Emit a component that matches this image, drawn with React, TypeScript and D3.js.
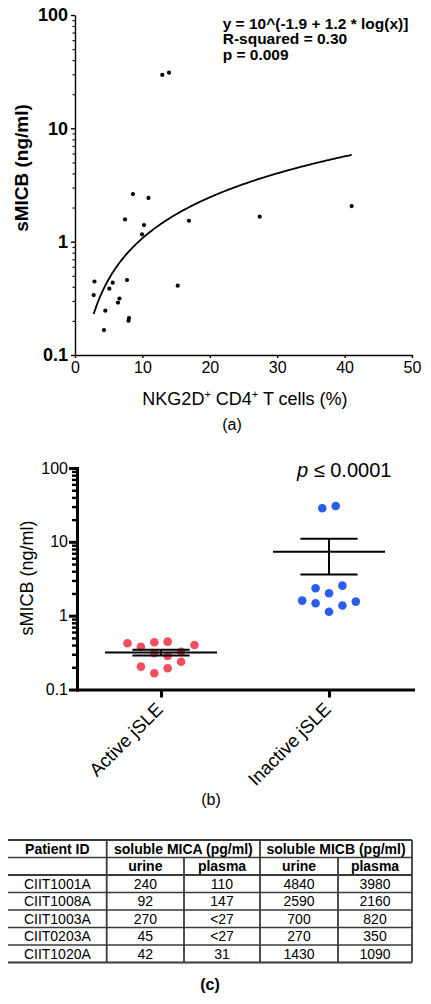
import React, { useEffect, useRef } from 'react';
import * as d3 from 'd3';

const FONT = '"Liberation Sans", Arial, Helvetica, sans-serif';

// ---------- Panel (a): scatter with power-law fit ----------
const nkg2dPct = [8.6, 10.9, 7.42, 10.24, 9.94, 16.9, 27.4, 41.05, 2.89, 2.77, 5.59, 5.09, 7.72, 6.6, 6.38, 4.5, 8.01, 7.94, 4.3, 15.24, 12.95, 13.95];
const smicbA = [2.63, 2.43, 1.57, 1.4, 1.16, 1.53, 1.66, 2.06, 0.445, 0.338, 0.435, 0.385, 0.459, 0.315, 0.29, 0.246, 0.212, 0.201, 0.166, 0.409, 29.6, 31.0];
const xTicksA = [0, 10, 20, 30, 40, 50];
const logTicks = [0.1, 1, 10, 100];
const fitIntercept = -1.17;
const fitSlope = 1.2;
const fitDomain = [2.77, 41.05];
const annotationLines = ['y = 10^(-1.9 + 1.2 * log(x)]', 'R-squared = 0.30', 'p = 0.009'];

// ---------- Panel (b): dot plot with mean ± SEM ----------
const groups = ['Active jSLE', 'Inactive jSLE'];
const activeValues = [0.423, 0.38, 0.436, 0.445, 0.401, 0.31, 0.284, 0.325, 0.204, 0.194, 0.238, 0.166];
const activeSlots = [-2.5, -1.5, -0.5, 0.5, 2.5, -0.5, 0.5, 1.5, -1.5, 0.5, 1.5, -0.5];
const inactiveValues = [28.5, 30.6, 2.35, 2.55, 2.01, 1.6, 1.47, 1.55, 1.37, 1.13];
const inactiveSlots = [-0.5, 0.5, -1, 1, 0, -2, -1, 2, 1, 0];
const pLabel = '≤ 0.0001';

// ---------- Panel (c): table ----------
const patientIds = ['CIIT1001A', 'CIIT1008A', 'CIIT1003A', 'CIIT0203A', 'CIIT1020A'];
const micaUrine = ['240', '92', '270', '45', '42'];
const micaPlasma = ['110', '147', '<27', '<27', '31'];
const micbUrine = ['4840', '2590', '700', '270', '1430'];
const micbPlasma = ['3980', '2160', '820', '350', '1090'];
const groupHeaders = ['soluble MICA (pg/ml)', 'soluble MICB (pg/ml)'];
const subHeaders = ['urine', 'plasma', 'urine', 'plasma'];

export default function App() {
  const aY = useRef<SVGGElement>(null);
  const aYm = useRef<SVGGElement>(null);
  const aX = useRef<SVGGElement>(null);
  const bY = useRef<SVGGElement>(null);
  const bYm = useRef<SVGGElement>(null);
  const bX = useRef<SVGGElement>(null);

  const xA = d3.scaleLinear().domain([0, 50]).range([75, 412]);
  const yA = d3.scaleLog().domain([0.1, 100]).range([355, 15]);
  const xB = d3.scalePoint<string>().domain(groups).range([77, 413]).padding(0.5);
  const yB = d3.scaleLog().domain([0.1, 100]).range([689.5, 468]);

  const minorTicks = yA.ticks().filter((t) => !logTicks.some((m) => Math.abs(m - t) < 1e-9));

  useEffect(() => {
    const styleAxis = (g: any, size: number, weight: string, sw: number) => {
      g.attr('font-family', FONT).attr('font-size', size).attr('font-weight', weight);
      g.selectAll('text').attr('fill', '#000');
      g.selectAll('line').attr('stroke', '#000').attr('stroke-width', sw);
      g.select('.domain').attr('stroke', '#000').attr('stroke-width', sw);
    };
    // panel a
    const gAy = d3.select(aY.current!);
    gAy.selectAll('*').remove();
    gAy.call(d3.axisLeft(yA).tickValues(logTicks).tickFormat(d3.format('~g') as any).tickSize(4).tickSizeOuter(0).tickPadding(3) as any);
    styleAxis(gAy, 18, 'bold', 1.4);
    const gAym = d3.select(aYm.current!);
    gAym.selectAll('*').remove();
    gAym.call(d3.axisLeft(yA).tickValues(minorTicks).tickFormat(() => '').tickSize(2.5).tickSizeOuter(0) as any);
    gAym.select('.domain').remove();
    gAym.selectAll('line').attr('stroke', '#000').attr('stroke-width', 1.1);
    const gAx = d3.select(aX.current!);
    gAx.selectAll('*').remove();
    gAx.call(d3.axisBottom(xA).tickValues(xTicksA).tickFormat(d3.format('d') as any).tickSize(3).tickSizeOuter(0).tickPadding(4) as any);
    styleAxis(gAx, 16, 'normal', 1.4);

    // panel b
    const gBy = d3.select(bY.current!);
    gBy.selectAll('*').remove();
    gBy.call(d3.axisLeft(yB).tickValues(logTicks).tickFormat(d3.format('~g') as any).tickSize(8).tickSizeOuter(0).tickPadding(1) as any);
    styleAxis(gBy, 16, 'normal', 3);
    gBy.select('.domain').attr('stroke-linecap', 'square');
    const gBym = d3.select(bYm.current!);
    gBym.selectAll('*').remove();
    gBym.call(d3.axisLeft(yB).tickValues(minorTicks).tickFormat(() => '').tickSize(5).tickSizeOuter(0) as any);
    gBym.select('.domain').remove();
    gBym.selectAll('line').attr('stroke', '#000').attr('stroke-width', 2.4);
    const gBx = d3.select(bX.current!);
    gBx.selectAll('*').remove();
    gBx.call(d3.axisBottom(xB).tickFormat(() => '').tickSize(8).tickSizeOuter(0) as any);
    styleAxis(gBx, 16, 'normal', 3);
    gBx.select('.domain').attr('stroke-linecap', 'square');
  }, []);

  const fitXs = d3.range(fitDomain[0], fitDomain[1], 0.2).concat([fitDomain[1]]);
  const fitLine = d3
    .line<number>()
    .x((d) => xA(d))
    .y((d) => yA(Math.pow(10, fitIntercept + fitSlope * Math.log10(d))))
    .curve(d3.curveMonotoneX);

  const slotStep = 13.4;
  const bGroups = [
    { name: groups[0], values: activeValues, slots: activeSlots, color: '#f24e5b' },
    { name: groups[1], values: inactiveValues, slots: inactiveSlots, color: '#2b5cf0' },
  ];

  // table geometry
  const colX = [8, 106.7, 184, 260, 338, 412];
  const rowY = [840, 857.5, 875, 892.5, 910, 927.5, 945, 962.5];
  const tableRows = patientIds.map((id, i) => [id, micaUrine[i], micaPlasma[i], micbUrine[i], micbPlasma[i]]);
  const lineColor = '#3a3a3a';

  return (
    <svg
      width={431}
      height={1004}
      style={{ position: 'absolute', left: 0, top: 0, background: '#fff' }}
      fontFamily={FONT}
    >
      <rect x={0} y={0} width={431} height={1004} fill="#fff" />

      {/* ---------------- Panel (a) ---------------- */}
      <g ref={aYm} transform={`translate(${xA(0)},0)`} />
      <g ref={aY} transform={`translate(${xA(0)},0)`} />
      <g ref={aX} transform={`translate(0,${yA(0.1)})`} />
      <path d={fitLine(fitXs) || ''} fill="none" stroke="#000" strokeWidth={1.8} />
      {nkg2dPct.map((x, i) => (
        <circle key={i} cx={xA(x)} cy={yA(smicbA[i])} r={2.1} fill="#000" />
      ))}
      <g fontSize={15.5} fontWeight="bold" fill="#000">
        {annotationLines.map((t, i) => (
          <text key={i} x={222.7} y={28.5 + i * 15.6}>
            {t}
          </text>
        ))}
      </g>
      <text
        transform={`translate(28,168) rotate(-90)`}
        textAnchor="middle"
        fontSize={19}
        fontWeight="bold"
      >
        sMICB (ng/ml)
      </text>
      <text x={245} y={405} textAnchor="middle" fontSize={18}>
        NKG2D
        <tspan dy={-7} fontSize={11}>+</tspan>
        <tspan dy={7}> CD4</tspan>
        <tspan dy={-7} fontSize={11}>+</tspan>
        <tspan dy={7}> T cells (%)</tspan>
      </text>
      <text x={232} y={430} textAnchor="middle" fontSize={16}>
        (a)
      </text>

      {/* ---------------- Panel (b) ---------------- */}
      {bGroups.map((g) => {
        const cx = xB(g.name)!;
        const mean = d3.mean(g.values)!;
        const sem = d3.deviation(g.values)! / Math.sqrt(g.values.length);
        return (
          <g key={g.name}>
            {g.values.map((v, i) => (
              <circle key={i} cx={cx + g.slots[i] * slotStep} cy={yB(v)} r={4.3} fill={g.color} />
            ))}
            <line x1={cx - 56} x2={cx + 56} y1={yB(mean)} y2={yB(mean)} stroke="#000" strokeWidth={2} />
            <line x1={cx - 28.6} x2={cx + 28.6} y1={yB(mean + sem)} y2={yB(mean + sem)} stroke="#000" strokeWidth={2} />
            <line x1={cx - 28.6} x2={cx + 28.6} y1={yB(mean - sem)} y2={yB(mean - sem)} stroke="#000" strokeWidth={2} />
            <line x1={cx} x2={cx} y1={yB(mean + sem)} y2={yB(mean - sem)} stroke="#000" strokeWidth={2} />
            <text
              transform={`translate(${cx + 3},${yB(0.1) + 21}) rotate(-45)`}
              textAnchor="end"
              fontSize={18.5}
            >
              {g.name}
            </text>
          </g>
        );
      })}
      <g ref={bYm} transform={`translate(${xB.range()[0]},0)`} />
      <g ref={bY} transform={`translate(${xB.range()[0]},0)`} />
      <g ref={bX} transform={`translate(0,${yB(0.1)})`} />
      <text x={297} y={477} fontSize={20}>
        <tspan fontStyle="italic">p</tspan> {pLabel}
      </text>
      <text transform={`translate(33,578) rotate(-90)`} textAnchor="middle" fontSize={18}>
        sMICB (ng/ml)
      </text>
      <text x={211} y={805} textAnchor="middle" fontSize={16}>
        (b)
      </text>

      {/* ---------------- Panel (c) table ---------------- */}
      <g stroke={lineColor}>
        {rowY.map((y, i) => (
          <line
            key={i}
            x1={colX[0]}
            x2={colX[5]}
            y1={y}
            y2={y}
            strokeWidth={i === 0 || i === rowY.length - 1 ? 2.2 : i === 2 ? 2 : 1.6}
          />
        ))}
        {[1, 3, 5].map((c) => (
          <line key={c} x1={colX[c]} x2={colX[c]} y1={rowY[0]} y2={rowY[rowY.length - 1]} strokeWidth={1.8} />
        ))}
        {[2, 4].map((c) => (
          <line key={c} x1={colX[c]} x2={colX[c]} y1={rowY[1]} y2={rowY[rowY.length - 1]} strokeWidth={1.8} />
        ))}
      </g>
      <g fontSize={14} fill="#000" textAnchor="middle">
        <text x={(colX[0] + colX[1]) / 2} y={rowY[0] + 13.5} fontWeight="bold">
          Patient ID
        </text>
        {groupHeaders.map((h, i) => (
          <text key={h} x={(colX[1 + i * 2] + colX[3 + i * 2]) / 2} y={rowY[0] + 13.5} fontWeight="bold">
            {h}
          </text>
        ))}
        {subHeaders.map((h, i) => (
          <text key={i} x={(colX[1 + i] + colX[2 + i]) / 2} y={rowY[1] + 13.5} fontWeight="bold">
            {h}
          </text>
        ))}
        {tableRows.map((row, r) =>
          row.map((cell, c) => (
            <text key={`${r}-${c}`} x={(colX[c] + colX[c + 1]) / 2} y={rowY[2 + r] + 13.5}>
              {cell}
            </text>
          ))
        )}
      </g>
      <text x={210} y={990} textAnchor="middle" fontSize={16} fontWeight="bold">
        (c)
      </text>
    </svg>
  );
}
